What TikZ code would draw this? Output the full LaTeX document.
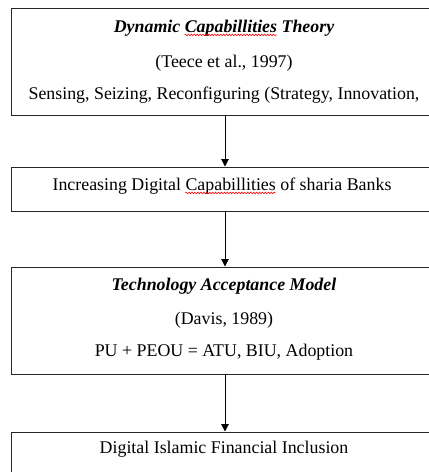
\documentclass[tikz,border=0pt]{standalone}
\usepackage{fontspec}
\setmainfont{Liberation Serif}
\usetikzlibrary{arrows.meta,calc,decorations.pathmorphing}

% widths used to place the spell-check waves
\newlength\preA \newlength\wordA
\newlength\preB \newlength\wordB
\newcommand\bodyfont{\fontsize{13.4pt}{16pt}\selectfont}

\tikzset{
  box/.style={draw=black!85, line width=0.75pt, minimum width=321pt, inner sep=0pt},
  txt/.style={anchor=base, inner sep=0pt, font=\bodyfont},
  ttl/.style={txt, font=\bodyfont\bfseries\itshape},
  flow/.style={-{Triangle[length=5.5pt,width=5.5pt]}, line width=0.75pt},
  wavy/.style={red, line width=0.45pt, decorate,
    decoration={snake, amplitude=0.6pt, segment length=2.2pt}}
}

\begin{document}
\settowidth\preA{\bodyfont\bfseries\itshape Dynamic }
\settowidth\wordA{\bodyfont\bfseries\itshape Capabillities}
\settowidth\preB{\bodyfont Increasing Digital }
\settowidth\wordB{\bodyfont Capabillities}
\begin{tikzpicture}[x=0.75pt, y=-0.75pt]
    \useasboundingbox (0,0) rectangle (429,472);
    \clip (0,0) rectangle (429,472);

    % Boxes
    \node[box, minimum height=107*0.75pt] (dct) at (225,61.5) {};
    \node[box, minimum height=44*0.75pt] (idc) at (225,189) {};
    \node[box, minimum height=107*0.75pt] (tam) at (225,320.5) {};
    \node[box, minimum height=44*0.75pt] (dif) at (225,454) {};

    % Dynamic capabilities
    \node[ttl] (t1) at (224,32) {Dynamic Capabillities Theory};
    \node[txt] (t1a) at (224,67) {(Teece et al., 1997)};
    \node[txt] (t1b) at (224,99.5) {Sensing, Seizing, Reconfiguring (Strategy, Innovation,};

    % Digital capabilities
    \node[txt] (t2) at (222,190) {Increasing Digital Capabillities of sharia Banks};

    % TAM
    \node[ttl] (t3) at (224,290.5) {Technology Acceptance Model};
    \node[txt] (t3a) at (224,324.5) {(Davis, 1989)};
    \node[txt] (t3b) at (224,356.5) {PU + PEOU = ATU, BIU, Adoption};

    % Inclusion
    \node[txt] (t4) at (224,453) {Digital Islamic Financial Inclusion};

    % Arrows between the boxes
    \draw[flow] (dct) -- (idc);
    \draw[flow] (idc) -- (tam);
    \draw[flow] (tam) -- (dif);

    % Red waves under the misspelt word
    \draw[wavy] ($(t1.base west)+(\preA,-2.2pt)$) -- ($(t1.base west)+({\preA+\wordA},-2.2pt)$);
    \draw[wavy] ($(t2.base west)+(\preB,-2.2pt)$) -- ($(t2.base west)+({\preB+\wordB},-2.2pt)$);
\end{tikzpicture}
\end{document}
